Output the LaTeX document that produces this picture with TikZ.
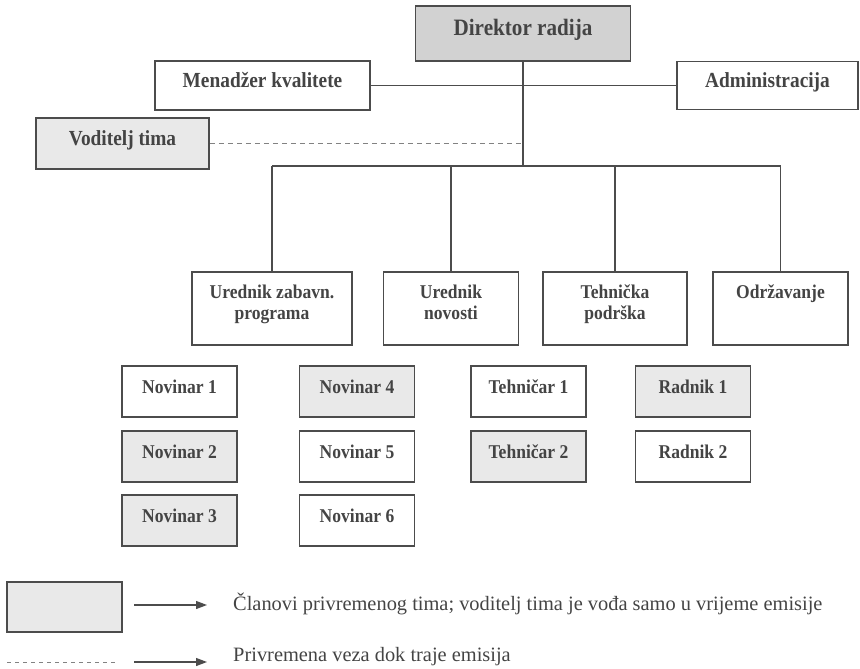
\documentclass[tikz,border=0pt]{standalone}
\usepackage{fontspec}
\setmainfont{Liberation Serif}[FakeStretch=0.9]
\newfontfamily\legfont{Liberation Serif}
\usetikzlibrary{arrows.meta}
\definecolor{ln}{HTML}{4C4C4C}
\definecolor{tx}{HTML}{444444}
\definecolor{gdark}{HTML}{D2D2D2}
\definecolor{glight}{HTML}{E9E9E9}
\tikzset{
  box/.style={draw=ln, line width=1.5pt, rectangle, inner sep=2pt, align=center,
    text=tx, font=\bfseries\fontsize{19.5}{21}\selectfont},
  oneline/.style={text height=0.68em, text depth=0.35em},
  topbox/.style={box, oneline, font=\bfseries\fontsize{21.5}{24}\selectfont},
  smallbox/.style={box, oneline, minimum width=115pt, minimum height=51pt},
  lvl/.style={box, minimum height=73pt},
  wire/.style={draw=ln, line width=1.1pt},
  dashline/.style={draw=ln!70, line width=1pt, dash pattern=on 5pt off 4pt},
  legarrow/.style={draw=ln, line width=1.2pt, -{Triangle[length=11pt,width=8pt]}},
  legtext/.style={anchor=west, text=tx, font=\legfont\fontsize{20.4}{24}\selectfont, inner sep=0pt, text height=0.68em, text depth=0.02em}
}
\begin{document}
\begin{tikzpicture}[x=1pt,y=-1pt]
\useasboundingbox (0,0) rectangle (860,669);
% top level
\node[topbox, fill=gdark, minimum width=215pt, minimum height=55pt, font=\bfseries\fontsize{23.5}{26}\selectfont] (dir) at (523,33.5) {Direktor radija};
\node[topbox, minimum width=215pt, minimum height=49pt] (men) at (262.5,85.5) {Menadžer kvalitete};
\node[topbox, minimum width=181pt, minimum height=48pt] (adm) at (767.5,85.5) {Administracija};
\node[topbox, fill=glight, minimum width=173pt, minimum height=51pt] (vod) at (122.5,143.5) {Voditelj tima};
% level 2
\node[lvl, minimum width=160pt] (uz) at (272,308.5) {Urednik zabavn.\\programa\\[-9pt]\mbox{}};
\node[lvl, minimum width=135pt] (un) at (451,308.5) {Urednik\\novosti\\[-9pt]\mbox{}};
\node[lvl, minimum width=144pt] (tp) at (615,308.5) {Tehnička\\podrška\\[-9pt]\mbox{}};
\node[lvl, minimum width=135pt] (od) at (780.5,308.5) {Održavanje\\\mbox{}\\[-9pt]\mbox{}};
% staff
\node[smallbox] (n1) at (179.5,391.5) {Novinar 1};
\node[smallbox, fill=glight] (n2) at (179.5,456.5) {Novinar 2};
\node[smallbox, fill=glight] (n3) at (179.5,520.5) {Novinar 3};
\node[smallbox, fill=glight] (n4) at (357,391.5) {Novinar 4};
\node[smallbox] (n5) at (357,456.5) {Novinar 5};
\node[smallbox] (n6) at (357,520.5) {Novinar 6};
\node[smallbox] (t1) at (528.5,391.5) {Tehničar 1};
\node[smallbox, fill=glight] (t2) at (528.5,456.5) {Tehničar 2};
\node[smallbox, fill=glight] (r1) at (693,391.5) {Radnik 1};
\node[smallbox] (r2) at (693,456.5) {Radnik 2};
% connectors
\coordinate (bar) at (523,166);
\coordinate (vj) at (523,143);
\draw[wire] (men.east) -- (adm.west);
\draw[wire] (dir.south) -- (bar);
\draw[dashline] (vod.east |- vj) -- (vj);
\draw[wire] (uz.north |- bar) -- (od.north |- bar);
\foreach \n in {uz,un,tp,od} \draw[wire] (\n.north |- bar) -- (\n.north);
% legend
\node[draw=ln, line width=1.5pt, fill=glight, minimum width=115pt, minimum height=50pt] (lbox) at (64.5,607) {};
\coordinate (la1) at (134,605);
\coordinate (lb1) at (207,605);
\draw[legarrow] (la1) -- (lb1);
\node[legtext] (lt1) at (233,607) {Članovi privremenog tima; voditelj tima je vođa samo u vrijeme emisije};
\coordinate (ld1) at (7,662);
\coordinate (ld2) at (118,662);
\draw[dashline, dash pattern=on 4pt off 4pt] (ld1) -- (ld2);
\coordinate (la2) at (134,662);
\coordinate (lb2) at (207,662);
\draw[legarrow] (la2) -- (lb2);
\node[legtext] (lt2) at (233,658) {Privremena veza dok traje emisija};
\end{tikzpicture}
\end{document}
